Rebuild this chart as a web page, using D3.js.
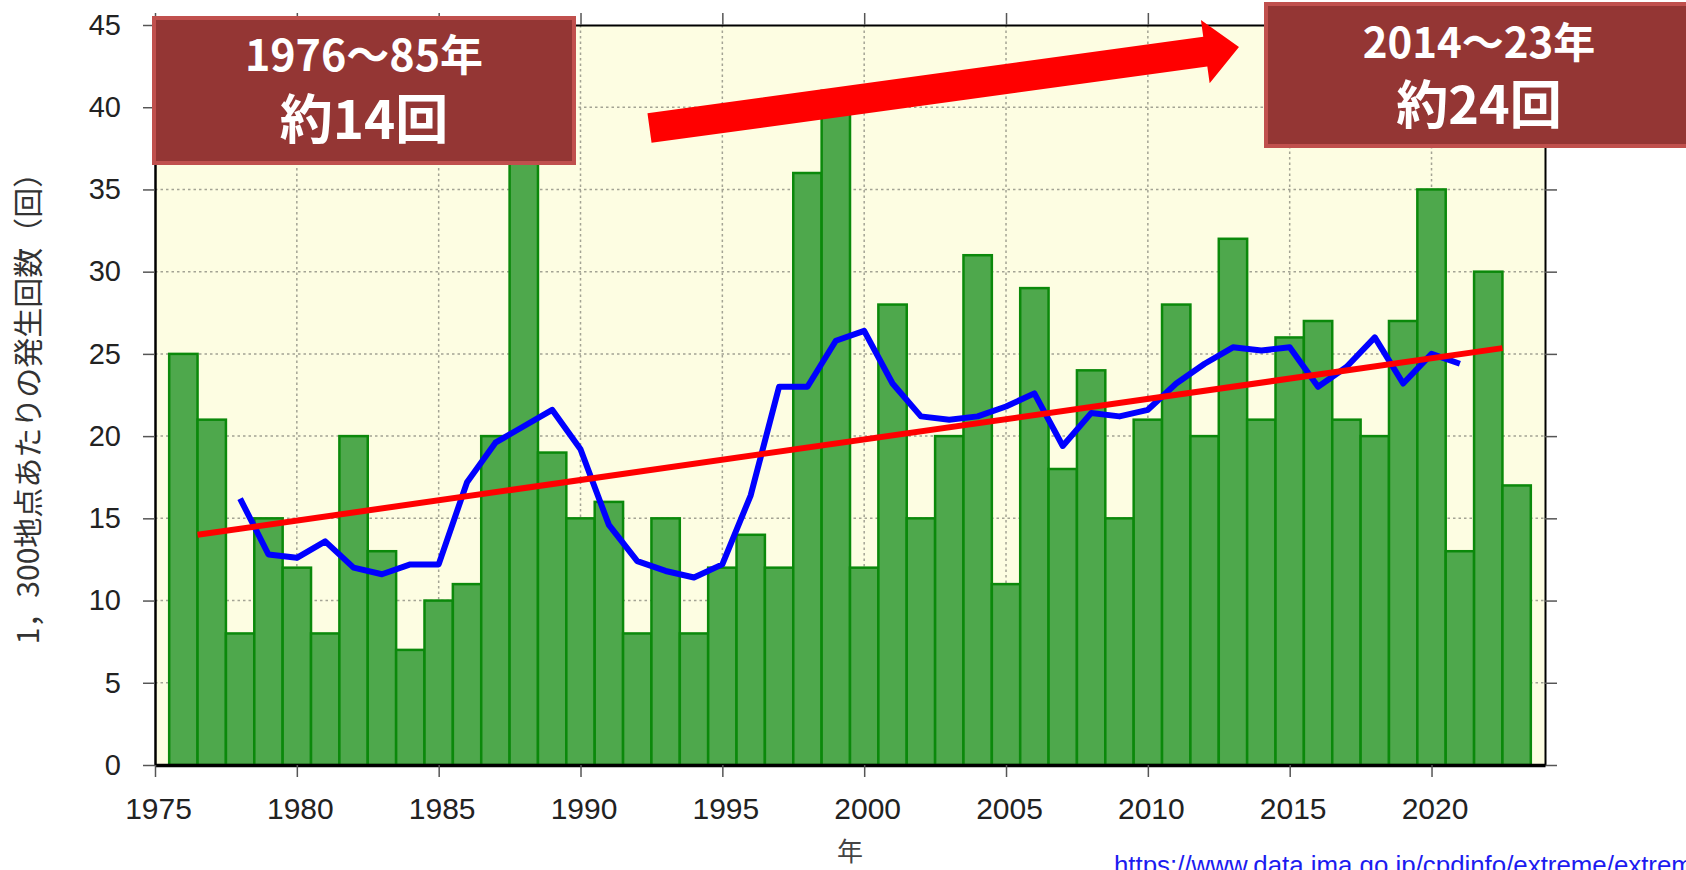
<!DOCTYPE html>
<html lang="ja">
<head>
<meta charset="utf-8">
<script src="https://cdn.jsdelivr.net/npm/d3@7"></script>
<style>
	html, body { margin: 0; padding: 0; background: #fff; overflow: hidden; }
	svg { display: block; }
</style>
</head>
<body>
<svg width="1686" height="870"></svg>
<script>
// 1時間降水量50mm以上の年間発生回数（1,300地点あたり）
const years = [
	1976, 1977, 1978, 1979, 1980, 1981, 1982, 1983, 1984, 1985,
	1986, 1987, 1988, 1989, 1990, 1991, 1992, 1993, 1994, 1995,
	1996, 1997, 1998, 1999, 2000, 2001, 2002, 2003, 2004, 2005,
	2006, 2007, 2008, 2009, 2010, 2011, 2012, 2013, 2014, 2015,
	2016, 2017, 2018, 2019, 2020, 2021, 2022, 2023,
];
const counts = [
	25, 21, 8, 15, 12, 8, 20, 13, 7, 10,
	11, 20, 38, 19, 15, 16, 8, 15, 8, 12,
	14, 12, 36, 41, 12, 28, 15, 20, 31, 11,
	29, 18, 24, 15, 21, 28, 20, 32, 21, 26,
	27, 21, 20, 27, 35, 13, 30, 17,
];

// 5年移動平均（青線）
const avgYears = [
	1978, 1979, 1980, 1981, 1982, 1983, 1984, 1985, 1986, 1987,
	1988, 1989, 1990, 1991, 1992, 1993, 1994, 1995, 1996, 1997,
	1998, 1999, 2000, 2001, 2002, 2003, 2004, 2005, 2006, 2007,
	2008, 2009, 2010, 2011, 2012, 2013, 2014, 2015, 2016, 2017,
	2018, 2019, 2020, 2021,
];
const avgValues = [
	16.2, 12.8, 12.6, 13.6, 12.0, 11.6, 12.2, 12.2, 17.2, 19.6,
	20.6, 21.6, 19.2, 14.6, 12.4, 11.8, 11.4, 12.2, 16.4, 23.0,
	23.0, 25.8, 26.4, 23.2, 21.2, 21.0, 21.2, 21.8, 22.6, 19.4,
	21.4, 21.2, 21.6, 23.2, 24.4, 25.4, 25.2, 25.4, 23.0, 24.2,
	26.0, 23.2, 25.0, 24.4,
];

// 長期変化傾向（赤線）
const trendYears = [1976.5, 2022.5];
const trendValues = [14.0, 25.35];

const yTicks = [0, 5, 10, 15, 20, 25, 30, 35, 40, 45];
const xTicks = [1975, 1980, 1985, 1990, 1995, 2000, 2005, 2010, 2015, 2020];

const yTitle = '1，300地点あたりの発生回数（回）';
const xTitle = '年';
const sourceUrl = 'https://www.data.jma.go.jp/cpdinfo/extreme/extreme_p.html';
const boxLeft = ['1976～85年', '約14回'];
const boxRight = ['2014～23年', '約24回'];

const plotBg = '#fdfde2';
const gridColor = '#a3a394';
const barFill = '#4ea84c';
const barStroke = '#0b890b';
const avgColor = '#0000ff';
const trendColor = '#ff0000';
const boxFill = '#943634';
const boxStroke = '#c0504d';
const tickFont = '"Liberation Sans", Arial, sans-serif';
const jpFont = '"Noto Sans CJK JP", "Noto Sans", sans-serif';

const svg = d3.select('svg');

const x = d3.scaleLinear()
	.domain([1975, 2024])
	.range([155, 1545]);
const y = d3.scaleLinear()
	.domain([0, 45])
	.range([765, 25]);

// plot background
svg.append('rect')
	.attr('x', x(1975))
	.attr('y', y(45))
	.attr('width', x(2024) - x(1975))
	.attr('height', y(0) - y(45))
	.attr('fill', plotBg);

// grid
const grid = svg.append('g')
	.attr('stroke', gridColor)
	.attr('stroke-width', 1.5)
	.attr('stroke-dasharray', '2.5,3');
grid.selectAll('line.h')
	.data(yTicks.filter(d => d > 0 && d < 45))
	.enter()
		.append('line')
		.attr('x1', x(1975))
		.attr('x2', x(2024))
		.attr('y1', d => y(d))
		.attr('y2', d => y(d));
grid.selectAll('line.v')
	.data(xTicks.filter(d => d > 1975))
	.enter()
		.append('line')
		.attr('x1', d => x(d))
		.attr('x2', d => x(d))
		.attr('y1', y(45))
		.attr('y2', y(0));

// bars
svg.append('g')
	.selectAll('rect')
	.data(years)
	.enter()
		.append('rect')
		.attr('x', d => x(d - 0.5))
		.attr('width', d => x(d + 0.5) - x(d - 0.5))
		.attr('y', (d, i) => y(counts[i]))
		.attr('height', (d, i) => y(0) - y(counts[i]))
		.attr('fill', barFill)
		.attr('stroke', barStroke)
		.attr('stroke-width', 2.5);

// moving average
const avgLine = d3.line()
	.x(d => x(d))
	.y((d, i) => y(avgValues[i]));
svg.append('path')
	.attr('d', avgLine(avgYears))
	.attr('fill', 'none')
	.attr('stroke', avgColor)
	.attr('stroke-width', 6)
	.attr('stroke-linejoin', 'round');

// trend
const trendLine = d3.line()
	.x(d => x(d))
	.y((d, i) => y(trendValues[i]));
svg.append('path')
	.attr('d', trendLine(trendYears))
	.attr('fill', 'none')
	.attr('stroke', trendColor)
	.attr('stroke-width', 6);

// axes
const styleAxis = (g, domainWidth) => {
	g.select('.domain')
		.attr('stroke', '#000')
		.attr('stroke-width', domainWidth);
	g.selectAll('.tick line')
		.attr('stroke', '#555')
		.attr('stroke-width', 1.5);
	g.selectAll('.tick text')
		.attr('fill', '#222')
		.attr('font-family', tickFont);
};

svg.append('g')
	.attr('transform', `translate(0, ${y(45)})`)
	.call(d3.axisTop(x).tickValues(xTicks).tickSize(12).tickSizeOuter(0).tickFormat(''))
	.call(g => styleAxis(g, 2));
svg.append('g')
	.attr('transform', `translate(${x(2024)}, 0)`)
	.call(d3.axisRight(y).tickValues(yTicks).tickSize(12).tickSizeOuter(0).tickFormat(''))
	.call(g => styleAxis(g, 2));
svg.append('g')
	.attr('transform', `translate(${x(1975)}, 0)`)
	.call(d3.axisLeft(y).tickValues(yTicks).tickSize(12).tickSizeOuter(0).tickPadding(22))
	.call(g => styleAxis(g, 2.5))
	.selectAll('.tick text')
		.attr('font-size', 29);
svg.append('g')
	.attr('transform', `translate(0, ${y(0)})`)
	.call(d3.axisBottom(x).tickValues(xTicks).tickSize(12).tickSizeOuter(0).tickPadding(21)
		.tickFormat(d3.format('d')))
	.call(g => styleAxis(g, 3.5))
	.selectAll('.tick text')
		.attr('font-size', 30)
		.attr('dx', 3);

// axis titles
svg.append('text')
	.attr('transform', `translate(28, ${(y(0) + y(45)) / 2 + 6}) rotate(-90)`)
	.attr('text-anchor', 'middle')
	.attr('dy', '0.35em')
	.attr('font-family', jpFont)
	.attr('font-size', 30)
	.attr('fill', '#333')
	.text(yTitle);
svg.append('text')
	.attr('x', (x(1975) + x(2024)) / 2)
	.attr('y', 861)
	.attr('text-anchor', 'middle')
	.attr('font-family', jpFont)
	.attr('font-size', 26)
	.attr('fill', '#444')
	.text(xTitle);

// source url
svg.append('text')
	.attr('x', 1114)
	.attr('y', 874)
	.attr('font-family', tickFont)
	.attr('font-size', 26)
	.attr('fill', '#1c1cf0')
	.attr('textLength', 678)
	.attr('lengthAdjust', 'spacingAndGlyphs')
	.text(sourceUrl);

// arrow
svg.append('path')
	.attr('transform', 'translate(649.5, 128) rotate(-7.82)')
	.attr('d', 'M0,-15 H561 V-32 L595,0 L561,32 V15 H0 Z')
	.attr('fill', trendColor);

// boxes
const boxes = [
	{ rect: [154, 18, 420, 145], cx: 364, base: [71, 139], size: [43, 53], lines: boxLeft },
	{ rect: [1266, 4, 428, 142], cx: 1479, base: [58, 124], size: [42, 52], lines: boxRight },
];
boxes.forEach((b) => {
	svg.append('rect')
		.attr('x', b.rect[0])
		.attr('y', b.rect[1])
		.attr('width', b.rect[2])
		.attr('height', b.rect[3])
		.attr('fill', boxFill)
		.attr('stroke', boxStroke)
		.attr('stroke-width', 4);
	b.lines.forEach((t, i) => {
		svg.append('text')
			.attr('x', b.cx)
			.attr('y', b.base[i])
			.attr('text-anchor', 'middle')
			.attr('font-family', jpFont)
			.attr('font-weight', 'bold')
			.attr('font-size', b.size[i])
			.attr('fill', '#fff')
			.text(t);
	});
});
</script>
</body>
</html>
